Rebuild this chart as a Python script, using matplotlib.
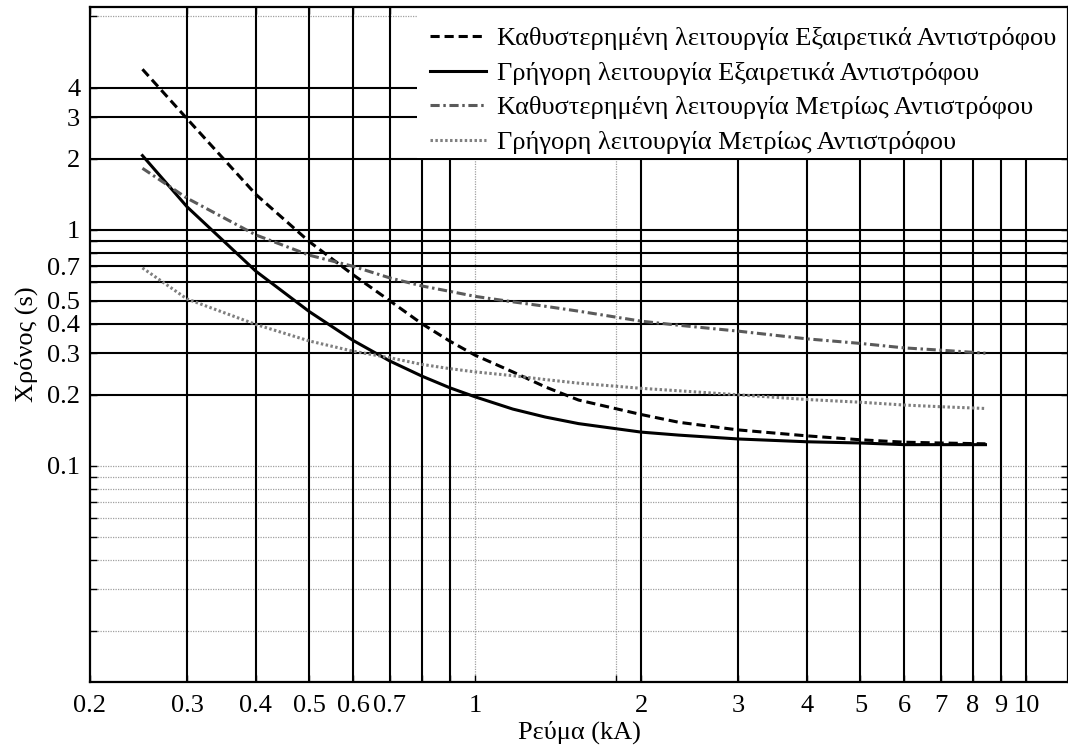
import matplotlib
matplotlib.use("Agg")
import matplotlib.pyplot as plt
from matplotlib.patches import Rectangle
from matplotlib.ticker import FixedLocator, NullLocator, FixedFormatter

plt.rcParams['font.family'] = ['Liberation Serif', 'DejaVu Serif']
plt.rcParams['font.size'] = 19

# current (kA)
current = [0.249, 0.3, 0.4, 0.5, 0.6, 0.7, 0.8, 0.9, 1.0, 1.17, 1.34, 1.54,
           2.0, 2.34, 3.0, 4.0, 5.0, 6.0, 7.0, 8.43]

# operating times (s)
delayed_ext = [4.78, 2.95, 1.41, 0.89, 0.645, 0.50, 0.40, 0.337, 0.294, 0.250,
               0.216, 0.190, 0.165, 0.153, 0.142, 0.134, 0.129, 0.126, 0.125, 0.124]
fast_ext = [2.06, 1.25, 0.667, 0.45, 0.34, 0.278, 0.24, 0.214, 0.196, 0.174,
            0.161, 0.151, 0.139, 0.135, 0.130, 0.1265, 0.125, 0.123, 0.123, 0.123]
delayed_mod = [1.82, 1.36, 0.95, 0.78, 0.70, 0.625, 0.578, 0.548, 0.522, 0.495,
               0.474, 0.452, 0.41, 0.394, 0.372, 0.345, 0.33, 0.316, 0.309, 0.30]
fast_mod = [0.689, 0.509, 0.397, 0.338, 0.306, 0.287, 0.269, 0.258, 0.25, 0.241,
            0.232, 0.224, 0.213, 0.208, 0.2, 0.191, 0.186, 0.181, 0.178, 0.175]

labels = ["Καθυστερημένη λειτουργία Εξαιρετικά Αντιστρόφου",
          "Γρήγορη λειτουργία Εξαιρετικά Αντιστρόφου",
          "Καθυστερημένη λειτουργία Μετρίως Αντιστρόφου",
          "Γρήγορη λειτουργία Μετρίως Αντιστρόφου"]

# grid lines
x_black = [0.3, 0.4, 0.5, 0.6, 0.7, 0.8, 0.9, 2, 3, 4, 5, 6, 7, 8, 9, 10]
x_gray = [1, 1.8]
y_black = [0.2, 0.3, 0.4, 0.5, 0.6, 0.7, 0.8, 0.9, 1, 2, 3, 4]
y_gray = [0.02, 0.03, 0.04, 0.05, 0.06, 0.07, 0.08, 0.09, 0.1, 8]

x_ticks = [0.2, 0.3, 0.4, 0.5, 0.6, 0.7, 0.8, 0.9, 1, 1.8, 2, 3, 4, 5, 6, 7, 8, 9, 10]
x_ticklabels = ["0.2", "0.3", "0.4", "0.5", "0.6", "0.7", "", "", "1", "", "2",
                "3", "4", "5", "6", "7", "8", "9", "10"]
y_ticks = [0.02, 0.03, 0.04, 0.05, 0.06, 0.07, 0.08, 0.09, 0.1, 0.2, 0.3, 0.4,
           0.5, 0.6, 0.7, 0.8, 0.9, 1, 2, 3, 4, 8]
y_ticklabels = ["", "", "", "", "", "", "", "", "0.1", "0.2", "0.3", "0.4",
                "0.5", "", "0.7", "", "", "1", "2", "3", "4", ""]

fig = plt.figure(figsize=(10.68, 7.51), dpi=100)
ax = fig.add_axes([90 / 1068, 1 - 682 / 751, (1068 - 90) / 1068, (682 - 7) / 751])
ax.set_xscale('log')
ax.set_yscale('log')
ax.set_xlim(0.2, 11.9)
ax.set_ylim(0.01216, 8.77)

for v in x_gray:
    ax.axvline(v, color='#a0a0a0', lw=0.9, ls=(0, (1, 1)), zorder=1)
for v in y_gray:
    ax.axhline(v, color='#a0a0a0', lw=0.9, ls=(0, (1, 1)), zorder=1)
for v in x_black:
    ax.axvline(v, color='black', lw=1.5, zorder=1.5)
for v in y_black:
    ax.axhline(v, color='black', lw=1.5, zorder=1.5)

# white box behind the legend, ending on the "2" grid line
ax.add_patch(Rectangle((0.334, 0.777), 0.666, 0.223, transform=ax.transAxes,
                       facecolor='white', edgecolor='none', zorder=2))

ax.plot(current, delayed_ext, color='black', lw=2.2, ls=(0, (3, 1.6)), label=labels[0], zorder=3)
ax.plot(current, fast_ext, color='black', lw=2.2, ls='-', label=labels[1], zorder=3)
ax.plot(current, delayed_mod, color='#5a5a5a', lw=2.2, ls=(0, (3, 1.2, 0.8, 1.2)), label=labels[2], zorder=3)
ax.plot(current, fast_mod, color='#7f7f7f', lw=2.2, ls=(0, (0.8, 0.8)), label=labels[3], zorder=3)

ax.xaxis.set_major_locator(FixedLocator(x_ticks))
ax.xaxis.set_major_formatter(FixedFormatter(x_ticklabels))
ax.xaxis.set_minor_locator(NullLocator())
ax.yaxis.set_major_locator(FixedLocator(y_ticks))
ax.yaxis.set_major_formatter(FixedFormatter(y_ticklabels))
ax.yaxis.set_minor_locator(NullLocator())
ax.tick_params(which='both', direction='in', length=5, width=1,
               top=True, right=True, labelsize=19)
ax.tick_params(axis='x', pad=9)
ax.tick_params(axis='y', pad=7)

for s in ax.spines.values():
    s.set_linewidth(1.6)

ax.set_xlabel("Ρεύμα (kA)", fontsize=19, labelpad=3)
ax.set_ylabel("Χρόνος (s)", fontsize=19, labelpad=7)

leg = ax.legend(loc='upper right', bbox_to_anchor=(1.008, 1), borderaxespad=0,
                fontsize=19, handlelength=2.1, handletextpad=0.42,
                labelspacing=0.42, borderpad=0.75, frameon=False)

fig.savefig("out.png", dpi=100)
